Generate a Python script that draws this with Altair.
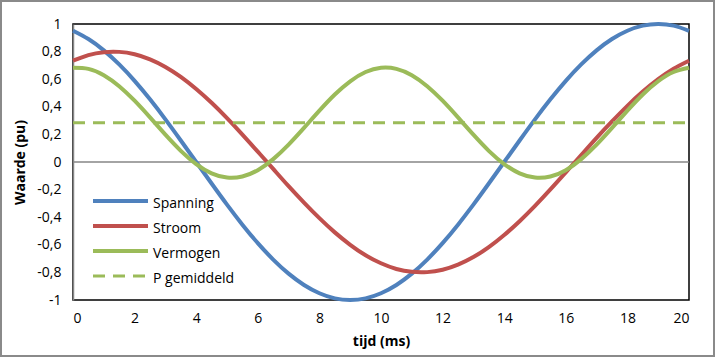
import altair as alt
import pandas as pd

# time axis (ms)
tijd = [0, 0.5, 1, 1.5, 2, 2.5, 3, 3.5, 4, 4.5, 5, 5.5, 6, 6.5, 7, 7.5, 8, 8.5, 9, 9.5,
        10, 10.5, 11, 11.5, 12, 12.5, 13, 13.5, 14, 14.5, 15, 15.5, 16, 16.5, 17, 17.5,
        18, 18.5, 19, 19.5, 20]

spanning = [0.951, 0.891, 0.809, 0.707, 0.588, 0.454, 0.309, 0.156, 0.0, -0.156,
            -0.309, -0.454, -0.588, -0.707, -0.809, -0.891, -0.951, -0.988, -1.0, -0.988,
            -0.951, -0.891, -0.809, -0.707, -0.588, -0.454, -0.309, -0.156, 0.0, 0.156,
            0.309, 0.454, 0.588, 0.707, 0.809, 0.891, 0.951, 0.988, 1.0, 0.988, 0.951]

stroom = [0.734, 0.775, 0.796, 0.798, 0.781, 0.744, 0.689, 0.617, 0.529, 0.429,
          0.318, 0.199, 0.075, -0.050, -0.175, -0.294, -0.407, -0.510, -0.600, -0.676,
          -0.734, -0.775, -0.796, -0.798, -0.781, -0.744, -0.689, -0.617, -0.529, -0.429,
          -0.318, -0.199, -0.075, 0.050, 0.175, 0.294, 0.407, 0.510, 0.600, 0.676, 0.734]

vermogen = [0.683, 0.675, 0.629, 0.549, 0.444, 0.323, 0.198, 0.081, -0.015, -0.082,
            -0.113, -0.105, -0.059, 0.021, 0.126, 0.247, 0.372, 0.489, 0.585, 0.652,
            0.683, 0.675, 0.629, 0.549, 0.444, 0.323, 0.198, 0.081, -0.015, -0.082,
            -0.113, -0.105, -0.059, 0.021, 0.126, 0.247, 0.372, 0.489, 0.585, 0.652, 0.683]

p_tijd = [0, 20]
p_gemiddeld = [0.285, 0.285]

series_names = ["Spanning", "Stroom", "Vermogen", "P gemiddeld"]
colors = ["#4F81BD", "#C0504D", "#9BBB59", "#9BBB59"]

x_ticks = [0, 2, 4, 6, 8, 10, 12, 14, 16, 18, 20]
y_ticks = [-1, -0.8, -0.6, -0.4, -0.2, 0, 0.2, 0.4, 0.6, 0.8, 1]

FONT = "Open Sans"

df = pd.DataFrame({"t": tijd, "Spanning": spanning, "Stroom": stroom, "Vermogen": vermogen})
dfp = pd.DataFrame({"t": p_tijd, "P": p_gemiddeld})

x_enc = alt.X("t:Q", scale=alt.Scale(domain=[0, 20], nice=False),
              axis=alt.Axis(values=x_ticks, title="tijd (ms)", titleY=41,
                            titleBaseline="middle", labelPadding=11))
y_axis = alt.Axis(values=y_ticks, title="Waarde (pu)", titleX=-53, titleY=138,
                  titleAngle=-90, titleAlign="center", titleBaseline="middle",
                  labelPadding=12, domain=True, domainColor="#868686", domainWidth=1.5,
                  labelExpr="replace(replace(format(datum.value, '~r'), '.', ','), '\u2212', '-')")
y_scale = alt.Scale(domain=[-1, 1], nice=False)

base = alt.Chart(df)

zero = alt.Chart(pd.DataFrame({"z": [0]})).mark_rule(color="#868686", strokeWidth=1.5).encode(
    y=alt.Y("z:Q", scale=y_scale, axis=y_axis)
)

lines = []
for name, col in zip(series_names[:3], colors[:3]):
    lines.append(
        base.mark_line(color=col, strokeWidth=4, interpolate="natural").encode(
            x=x_enc, y=alt.Y(f"{name}:Q", scale=y_scale, axis=y_axis)
        )
    )

pline = alt.Chart(dfp).mark_line(color=colors[3], strokeWidth=3, strokeDash=[12, 8]).encode(
    x=x_enc, y=alt.Y("P:Q", scale=y_scale, axis=y_axis)
)

# manual legend
leg_layers = []
row_y = [177, 202, 227, 252]
dummy = pd.DataFrame({"a": [0]})
for i, (name, col) in enumerate(zip(series_names, colors)):
    if i < 3:
        r = alt.Chart(dummy).mark_rule(color=col, strokeWidth=4)
    else:
        r = alt.Chart(dummy).mark_rule(color=col, strokeWidth=3, strokeDash=[12, 8])
    leg_layers.append(r.encode(x=alt.value(20), x2=alt.value(75), y=alt.value(row_y[i])))
    leg_layers.append(
        alt.Chart(dummy).mark_text(align="left", baseline="middle", font=FONT, fontSize=14,
                                   color="black", text=name)
        .encode(x=alt.value(80), y=alt.value(row_y[i] + 3))
    )

border = alt.Chart(dummy).mark_rect(fill=None, stroke="#8a8a8a", strokeWidth=2).encode(
    x=alt.value(-72), x2=alt.value(641), y=alt.value(-23), y2=alt.value(332)
)

chart = alt.layer(zero, *lines, pline, *leg_layers, border).properties(
    width=616, height=276,
    autosize=alt.AutoSizeParams(type="none"),
    padding={"left": 73, "top": 24, "right": 26, "bottom": 57},
).configure_view(
    stroke="black", strokeWidth=1.5
).configure_axis(
    ticks=False, domain=False, grid=False,
    labelFont=FONT, labelFontSize=14, labelColor="black",
    titleFont=FONT, titleFontSize=14, titleFontWeight="bold", titleColor="black",
)

chart.save("out.html", embed_options={"renderer": "svg", "actions": False})
